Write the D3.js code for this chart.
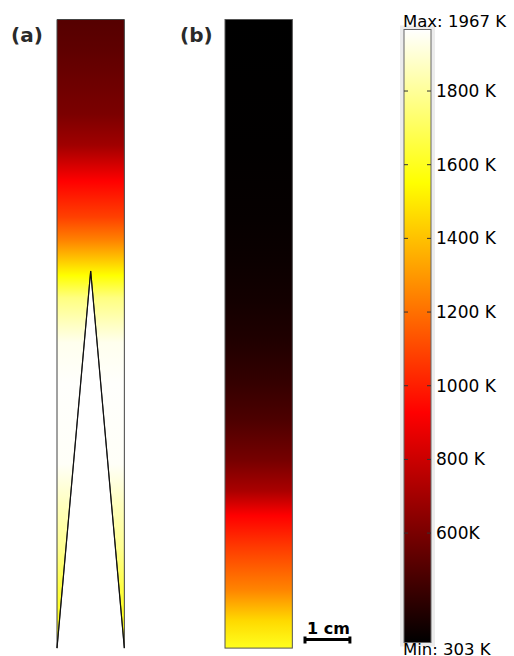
<!DOCTYPE html>
<html>
<head>
<meta charset="utf-8">
<script src="https://cdn.jsdelivr.net/npm/d3@7"></script>
<style>
  body { margin: 0; background: #fff; }
  svg { display: block; font-family: "DejaVu Sans", sans-serif; }
</style>
</head>
<body>
<div id="chart"></div>
<script>
// temperature profiles, depth in cm from the top of each domain, temperature in K
const depthA = [0, 0.7, 2.1, 2.8, 3.6, 4.4, 4.9, 5.3, 5.7, 6.2, 7.2, 8.1, 9.9, 10.8, 11.75, 12.7, 13.6, 14];
const tempA  = [510, 535, 603, 694, 927, 1083, 1239, 1395, 1551, 1759, 1940, 1962, 1955, 1863, 1790, 1655, 1580, 1530];

const depthB = [0, 2.9, 4.45, 5.35, 6.25, 7.1, 8.0, 8.9, 9.8, 10.5, 11.05, 11.75, 12.7, 13.4, 14];
const tempB  = [303, 308, 318, 330, 350, 380, 425, 490, 590, 720, 927, 1070, 1250, 1460, 1600];

// domain geometry (cm)
const domainWidth = 1.5;
const domainHeight = 14;
const apexFromTop = 5.6;

// colour bar
const tMin = 303, tMax = 1967;
const barTicks = [600, 800, 1000, 1200, 1400, 1600, 1800];
const barTickLabels = ["600K", "800 K", "1000 K", "1200 K", "1400 K", "1600 K", "1800 K"];

const W = 514, H = 656;
const svg = d3.select("#chart").append("svg").attr("width", W).attr("height", H);
const defs = svg.append("defs");

// "hot" style colormap: black -> red -> yellow -> white
const heat = d3.scaleLinear()
  .domain([0, 0.375, 0.75, 1])
  .range(["#000000", "#ff0000", "#ffff00", "#ffffff"])
  .clamp(true);
const tNorm = d3.scaleLinear().domain([tMin, tMax]).range([0, 1]);
const tempColor = t => heat(tNorm(t));

// cm -> px
const cm = d3.scaleLinear().domain([0, 1]).range([0, 44.9]);
const top0 = 19.5;
const yDepth = d3.scaleLinear().domain([0, domainHeight]).range([top0, top0 + cm(domainHeight)]);

function profileGradient(id, depths, temps) {
  const g = defs.append("linearGradient").attr("id", id)
    .attr("gradientUnits", "userSpaceOnUse")
    .attr("x1", 0).attr("x2", 0)
    .attr("y1", yDepth(0)).attr("y2", yDepth(domainHeight));
  g.selectAll("stop").data(depths).join("stop")
    .attr("offset", d => d / domainHeight)
    .attr("stop-color", (d, i) => tempColor(temps[i]));
}
profileGradient("gradA", depthA, tempA);
profileGradient("gradB", depthB, tempB);

// panel (a): column with a triangular notch from the bottom
const xA = 57;
const polyA = [
  [0, 0], [domainWidth, 0], [domainWidth, domainHeight],
  [domainWidth / 2, apexFromTop], [0, domainHeight]
].map(([x, y]) => [xA + cm(x), yDepth(y)]);

svg.append("path")
  .attr("d", "M" + polyA.join("L") + "Z")
  .attr("fill", "url(#gradA)")
  .attr("stroke", "#444")
  .attr("stroke-width", 1);
// darker notch edges
svg.append("path")
  .attr("d", "M" + [polyA[2], polyA[3], polyA[4]].join("L"))
  .attr("fill", "none")
  .attr("stroke", "#111")
  .attr("stroke-width", 1.2);

// panel (b): plain column
const xB = 225;
svg.append("rect")
  .attr("x", xB).attr("y", yDepth(0))
  .attr("width", cm(domainWidth)).attr("height", yDepth(domainHeight) - yDepth(0))
  .attr("fill", "url(#gradB)")
  .attr("stroke", "#555")
  .attr("stroke-width", 1);

// panel labels
svg.append("text").attr("x", 11).attr("y", 42).text("(a)")
  .attr("font-size", 20).attr("font-weight", "bold").attr("fill", "#2a2a2a");
svg.append("text").attr("x", 180).attr("y", 42).text("(b)")
  .attr("font-size", 20).attr("font-weight", "bold").attr("fill", "#2a2a2a");

// scale bar
const sbX = 305, sbY = 639.5;
svg.append("text").attr("x", sbX + cm(1) / 2 + 1).attr("y", 634)
  .attr("text-anchor", "middle").attr("font-size", 16).attr("font-weight", "bold")
  .text("1 cm");
svg.append("path")
  .attr("d", `M${sbX},${sbY}H${sbX + cm(1)}M${sbX},${sbY - 3}V${sbY + 4}M${sbX + cm(1)},${sbY - 3}V${sbY + 4}`)
  .attr("stroke", "#000").attr("stroke-width", 3).attr("fill", "none");

// colour bar
const barX = 404, barW = 27;
const yT = d3.scaleLinear().domain([tMin, tMax]).range([642.5, 29.5]);

const barGrad = defs.append("linearGradient").attr("id", "barGrad")
  .attr("x1", 0).attr("x2", 0).attr("y1", 1).attr("y2", 0);
barGrad.selectAll("stop").data(d3.range(0, 1.0001, 0.125)).join("stop")
  .attr("offset", d => d)
  .attr("stop-color", d => heat(d));

svg.append("rect")
  .attr("x", barX - 4).attr("y", yT(tMax) - 4)
  .attr("width", barW + 8).attr("height", yT(tMin) - yT(tMax) + 8)
  .attr("fill", "#ececec");
svg.append("rect")
  .attr("x", barX).attr("y", yT(tMax))
  .attr("width", barW).attr("height", yT(tMin) - yT(tMax))
  .attr("fill", "url(#barGrad)")
  .attr("stroke", "#666").attr("stroke-width", 1);

const tickG = svg.append("g");
tickG.selectAll("path").data(barTicks).join("path")
  .attr("d", d => `M${barX},${yT(d)}h4M${barX + barW - 4},${yT(d)}h4`)
  .attr("stroke", "#333").attr("stroke-width", 1);
tickG.selectAll("text").data(barTicks).join("text")
  .attr("x", barX + barW + 5)
  .attr("y", d => yT(d))
  .attr("dy", "0.35em")
  .attr("font-size", 17)
  .text((d, i) => barTickLabels[i]);

svg.append("text").attr("x", 403).attr("y", 27).attr("font-size", 16.5)
  .text(`Max: ${tMax} K`);
svg.append("text").attr("x", 403).attr("y", 655).attr("font-size", 16.5)
  .text(`Min: ${tMin} K`);
</script>
</body>
</html>
